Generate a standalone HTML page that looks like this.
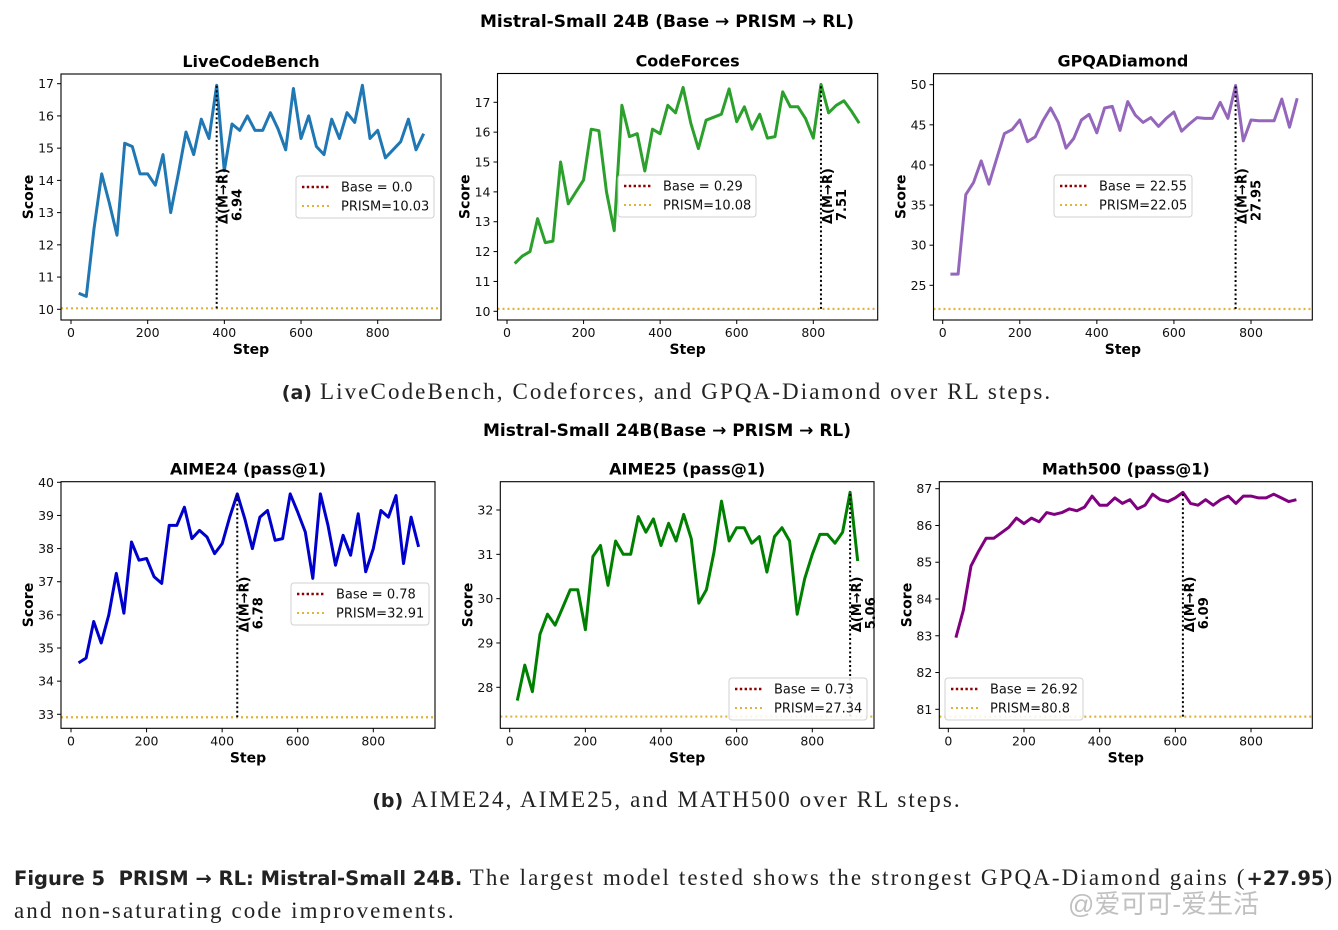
<!DOCTYPE html>
<html><head><meta charset="utf-8">
<style>
html,body{margin:0;padding:0;background:#fff;}
body{width:1338px;height:930px;position:relative;overflow:hidden;}
svg text{font-family:"DejaVu Sans","Liberation Sans",sans-serif;}
.cap{position:absolute;font-family:"Liberation Serif",serif;color:#222;white-space:nowrap;}
.ser{letter-spacing:2.1px;font-size:23px;}
.sans{font-family:"DejaVu Sans","Liberation Sans",sans-serif;font-weight:bold;letter-spacing:0;}
</style></head><body>
<svg id="fig" width="1338" height="930" viewBox="0 0 1338 930" style="position:absolute;left:0;top:0">
<text x="667" y="27" font-size="17" font-weight="bold" text-anchor="middle">Mistral-Small 24B (Base → PRISM → RL)</text>
<text x="667" y="436" font-size="17" font-weight="bold" text-anchor="middle">Mistral-Small 24B(Base → PRISM → RL)</text>
</svg>
<div class="cap" style="left:0;width:1334px;text-align:center;top:379px;"><span class="sans" style="font-size:19px">(a)</span>&nbsp; <span class="ser">LiveCodeBench, Codeforces, and GPQA-Diamond over RL steps.</span></div>
<div class="cap" style="left:0;width:1334px;text-align:center;top:787px;"><span class="sans" style="font-size:19px">(b)</span>&nbsp; <span class="ser">AIME24, AIME25, and MATH500 over RL steps.</span></div>
<div class="cap" style="left:14px;top:863px;line-height:30px;"><span class="sans" style="font-size:19.5px">Figure 5&nbsp; PRISM → RL: Mistral-Small 24B.</span><span class="ser"> The largest model tested shows the strongest GPQA-Diamond gains (</span><span class="sans" style="font-size:19.5px">+27.95</span><span class="ser">)</span><br><span class="ser">and non-saturating code improvements.</span></div>
<div class="cap" style="left:1068px;top:884px;font-size:26px;color:rgba(150,150,150,0.6);font-family:'Liberation Sans','Noto Sans CJK SC',sans-serif;">@爱可可-爱生活</div>
<script>
const steps = [20,40,60,80,100,120,140,160,180,200,220,240,260,280,300,320,340,360,380,400,420,440,460,480,500,520,540,560,580,600,620,640,660,680,700,720,740,760,780,800,820,840,860,880,900,920];
const xTicks = [0,200,400,600,800];
const lcbScores = [10.5,10.4,12.5,14.2,13.3,12.3,15.15,15.05,14.2,14.2,13.85,14.8,13.0,14.2,15.5,14.8,15.9,15.3,16.95,14.3,15.75,15.55,16.0,15.55,15.55,16.1,15.6,14.95,16.85,15.3,16.0,15.05,14.8,15.9,15.3,16.1,15.8,16.95,15.3,15.55,14.7,14.95,15.2,15.9,14.95,15.45];
const cfScores = [11.6,11.85,12.0,13.1,12.3,12.35,15.0,13.6,14.0,14.4,16.1,16.05,14.0,12.7,16.9,15.85,15.95,14.7,16.1,15.95,16.9,16.65,17.5,16.3,15.45,16.4,16.5,16.6,17.45,16.35,16.85,16.1,16.6,15.8,15.85,17.35,16.85,16.85,16.45,15.8,17.6,16.65,16.9,17.05,16.7,16.3];
const gpqaScores = [26.4,26.4,36.3,37.8,40.5,37.6,40.8,43.9,44.4,45.6,42.9,43.5,45.5,47.1,45.3,42.1,43.3,45.6,46.3,44.0,47.1,47.3,44.3,47.9,46.2,45.3,45.9,44.8,45.8,46.6,44.2,45.1,45.9,45.8,45.8,47.8,45.8,49.9,43.0,45.6,45.5,45.5,45.5,48.2,44.7,48.3];
const aime24Scores = [34.55,34.7,35.8,35.15,36.0,37.25,36.05,38.2,37.65,37.7,37.15,36.95,38.7,38.7,39.25,38.3,38.55,38.35,37.85,38.15,38.95,39.65,38.9,38.0,38.95,39.15,38.25,38.3,39.65,39.1,38.5,37.1,39.65,38.7,37.5,38.4,37.8,39.05,37.3,38.0,39.15,38.95,39.6,37.55,38.95,38.05];
const aime25Scores = [27.7,28.5,27.9,29.2,29.65,29.4,29.8,30.2,30.2,29.3,30.95,31.2,30.3,31.3,31.0,31.0,31.85,31.5,31.8,31.2,31.7,31.3,31.9,31.35,29.9,30.2,31.05,32.2,31.3,31.6,31.6,31.25,31.4,30.6,31.4,31.6,31.3,29.65,30.45,31.0,31.45,31.45,31.25,31.5,32.4,30.85];
const mathScores = [82.95,83.7,84.9,85.3,85.65,85.65,85.8,85.95,86.2,86.05,86.2,86.1,86.35,86.3,86.35,86.45,86.4,86.5,86.8,86.55,86.55,86.75,86.6,86.7,86.45,86.55,86.85,86.7,86.65,86.75,86.9,86.6,86.55,86.7,86.55,86.7,86.8,86.6,86.8,86.8,86.75,86.75,86.85,86.75,86.65,86.7];
const lcbYTicks = [10,11,12,13,14,15,16,17];
const cfYTicks = [10,11,12,13,14,15,16,17];
const gpqaYTicks = [25,30,35,40,45,50];
const aime24YTicks = [33,34,35,36,37,38,39,40];
const aime25YTicks = [28,29,30,31,32];
const mathYTicks = [81,82,83,84,85,86,87];
const prismValues = [10.03,10.08,22.05,32.91,27.34,80.8];
const baseLabels = ["Base = 0.0","Base = 0.29","Base = 22.55","Base = 0.78","Base = 0.73","Base = 26.92"];
const prismLabels = ["PRISM=10.03","PRISM=10.08","PRISM=22.05","PRISM=32.91","PRISM=27.34","PRISM=80.8"];
const peakSteps = [380,820,760,440,900,620];
const deltaLabels = ["6.94","7.51","27.95","6.78","5.06","6.09"];
const titles = ["LiveCodeBench","CodeForces","GPQADiamond","AIME24 (pass@1)","AIME25 (pass@1)","Math500 (pass@1)"];

const NS="http://www.w3.org/2000/svg";
const svg=document.getElementById('fig');
function mk(tag,attrs,parent){const e=document.createElementNS(NS,tag);for(const k in attrs)e.setAttribute(k,attrs[k]);(parent||svg).appendChild(e);return e;}

const panels=[
 {slug:'livecodebench',data:lcbScores,yt:lcbYTicks,color:'#1f77b4',box:[61,74,441,320],xc:[71,377.7],yc:[10,309.3,17,83.7],leg:[296,176]},
 {slug:'codeforces',data:cfScores,yt:cfYTicks,color:'#2ca02c',box:[497.5,73.5,877.7,320],xc:[507,813.3],yc:[10,311.3,17,102.3],leg:[618,175]},
 {slug:'gpqa-diamond',data:gpqaScores,yt:gpqaYTicks,color:'#9467bd',box:[933.5,73.7,1312.3,320],xc:[942.7,1251],yc:[25,285.3,50,84.7],leg:[1054,175]},
 {slug:'aime24',data:aime24Scores,yt:aime24YTicks,color:'#0000cd',box:[61,481.7,435,728.3],xc:[71,373.3],yc:[33,714.3,40,482.3],leg:[291,583]},
 {slug:'aime25',data:aime25Scores,yt:aime25YTicks,color:'#008000',box:[500.3,481.7,874,728.3],xc:[509.7,812.3],yc:[28,687.3,32,510],leg:[729,678]},
 {slug:'math500',data:mathScores,yt:mathYTicks,color:'#800080',box:[939.3,481.7,1312.3,728.3],xc:[948.3,1251],yc:[81,709.3,87,488.7],leg:[945,678]}
];

panels.forEach((p,i)=>{
  const [L,T,R,B]=p.box;
  const xs=v=>p.xc[0]+v*(p.xc[1]-p.xc[0])/800;
  const ys=v=>p.yc[1]+(v-p.yc[0])*(p.yc[3]-p.yc[1])/(p.yc[2]-p.yc[0]);
  const g=mk('g',{});
  
  
  const t=mk('text',{x:(L+R)/2,y:T-7,'font-size':16,'font-weight':'bold','text-anchor':'middle'},g);
  t.textContent=titles[i];
  
  
  const pl=mk('line',{x1:L,x2:R,y1:ys(prismValues[i]),y2:ys(prismValues[i]),stroke:'#e0b43a','stroke-width':2.2,'stroke-dasharray':'2,3'},g);
  
  
  const pts=steps.map((s,k)=>xs(s).toFixed(1)+','+ys(p.data[k]).toFixed(1)).join(' ');
  const line=mk('polyline',{points:pts,fill:'none',stroke:p.color,'stroke-width':3,'stroke-linejoin':'round'},g);
  
  
  const pk=steps.indexOf(peakSteps[i]);
  const dx=xs(peakSteps[i]);
  const dl=mk('line',{x1:dx,x2:dx,y1:ys(prismValues[i]),y2:ys(p.data[pk]),stroke:'#000','stroke-width':2,'stroke-dasharray':'2,2.5'},g);
  
  
  const ty=B-96;
  const d1=mk('text',{x:0,y:0,'font-size':13,'font-weight':'bold',transform:`translate(${dx+11},${ty}) rotate(-90)`},g);
  d1.textContent='Δ(M→R)';
  
  
  const d2=mk('text',{x:3,y:0,'font-size':13,'font-weight':'bold',transform:`translate(${dx+25},${ty}) rotate(-90)`},g);
  d2.textContent=deltaLabels[i];
  
  
  const fr=mk('rect',{x:L,y:T,width:R-L,height:B-T,fill:'none',stroke:'#000','stroke-width':1.1},g);
  
  
  xTicks.forEach(v=>{
    mk('line',{x1:xs(v),x2:xs(v),y1:B,y2:B+4,stroke:'#000','stroke-width':1},g);
    const tl=mk('text',{x:xs(v),y:B+17,'font-size':12.5,'text-anchor':'middle',fill:'#111'},g);
    tl.textContent=v;
    
    
  });
  p.yt.forEach(v=>{
    mk('line',{x1:L-4,x2:L,y1:ys(v),y2:ys(v),stroke:'#000','stroke-width':1},g);
    const tl=mk('text',{x:L-7,y:ys(v)+4.5,'font-size':12.5,'text-anchor':'end',fill:'#111'},g);
    tl.textContent=v;
    
    
  });
  const xl=mk('text',{x:(L+R)/2,y:B+34,'font-size':14,'font-weight':'bold','text-anchor':'middle'},g);
  xl.textContent='Step';
  
  
  const yl=mk('text',{x:0,y:0,'font-size':14,'font-weight':'bold','text-anchor':'middle',transform:`translate(${L-28},${(T+B)/2}) rotate(-90)`},g);
  yl.textContent='Score';
  
  
  const [lx,ly]=p.leg;
  const lg=mk('g',{},g);
  
  
  mk('rect',{x:lx,y:ly,width:138,height:42,rx:3,fill:'rgba(255,255,255,0.85)',stroke:'#d0d0d0','stroke-width':1},lg);
  mk('line',{x1:lx+6,x2:lx+34,y1:ly+11,y2:ly+11,stroke:'#8b0000','stroke-width':2.4,'stroke-dasharray':'2.4,2.4'},lg);
  mk('line',{x1:lx+6,x2:lx+34,y1:ly+30,y2:ly+30,stroke:'#e0b43a','stroke-width':2,'stroke-dasharray':'2,3'},lg);
  const b1=mk('text',{x:lx+45,y:ly+15.5,'font-size':13,fill:'#111'},lg);
  b1.textContent=baseLabels[i];
  
  
  const b2=mk('text',{x:lx+45,y:ly+34.5,'font-size':13,fill:'#111'},lg);
  b2.textContent=prismLabels[i];
  
  
});
</script>
</body></html>
